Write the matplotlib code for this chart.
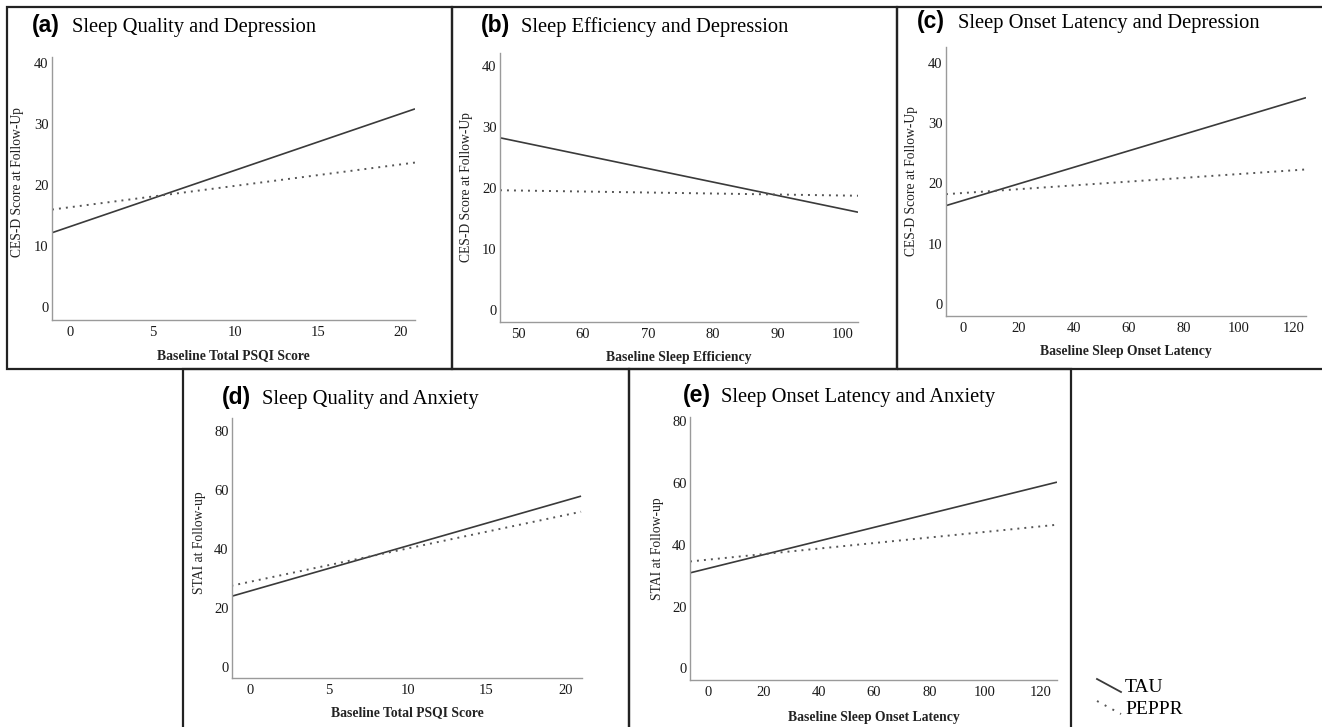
import matplotlib
matplotlib.use("Agg")
import matplotlib.pyplot as plt
from matplotlib.patches import Rectangle
from matplotlib.lines import Line2D

W, H = 1322, 727

# panel data: x end points (edges of the plotted range) and fitted values
x_a = [-1.1, 20.9]
tau_a = [12.2, 32.5]
peppr_a = [16.0, 23.7]

x_b = [47.2, 102.4]
tau_b = [28.3, 16.1]
peppr_b = [19.7, 18.8]

x_c = [-6.4, 124.5]
tau_c = [16.3, 34.2]
peppr_c = [18.2, 22.3]

x_d = [-1.2, 21.0]
tau_d = [23.8, 57.8]
peppr_d = [27.4, 52.5]

x_e = [-6.4, 126.0]
tau_e = [30.9, 60.3]
peppr_e = [34.6, 46.5]

xticks_psqi = [0, 5, 10, 15, 20]
xticks_eff = [50, 60, 70, 80, 90, 100]
xticks_sol = [0, 20, 40, 60, 80, 100, 120]
yticks_dep = [0, 10, 20, 30, 40]
yticks_anx = [0, 20, 40, 60, 80]

serif = "Liberation Serif"
sans = "Liberation Sans"
line_col = "#3a3a3a"
axis_col = "#9a9a9a"

fig = plt.figure(figsize=(W / 100, H / 100), dpi=100)


def box(x0, y0, x1, y1):
    fig.add_artist(Rectangle((x0 / W, 1 - y1 / H), (x1 - x0) / W, (y1 - y0) / H,
                             transform=fig.transFigure, fill=False,
                             edgecolor="#222222", linewidth=1.6))


def title(letter, text, xl, xt, yb):
    fig.text(xl / W, 1 - yb / H, letter, fontfamily=sans, fontweight="bold",
             fontsize=16.5, va="baseline", ha="left")
    fig.text(xt / W, 1 - yb / H, text, fontfamily=serif, fontsize=14.8,
             va="baseline", ha="left")


def panel(pix, x, tau, peppr, xlim, ylim, xticks, yticks, xlabel, ylabel,
          ylab_dx=-33, xlab_dy=36, ylab_cy=0.5):
    x0, y0, x1, y1 = pix
    ax = fig.add_axes([x0 / W, 1 - y1 / H, (x1 - x0) / W, (y1 - y0) / H])
    ax.plot(x, tau, color=line_col, lw=1.2, solid_capstyle="butt")
    ax.plot(x, peppr, color="#555555", lw=1.4, linestyle=(0, (1, 2.6)))
    ax.set_xlim(xlim)
    ax.set_ylim(ylim)
    ax.set_xticks(xticks)
    ax.set_yticks(yticks)
    for s in ["top", "right"]:
        ax.spines[s].set_visible(False)
    for s in ["left", "bottom"]:
        ax.spines[s].set_color(axis_col)
        ax.spines[s].set_linewidth(1.0)
    ax.tick_params(length=0, labelsize=10.5, labelcolor="#1a1a1a")
    ax.tick_params(axis="x", pad=4.5)
    ax.tick_params(axis="y", pad=2.5)
    for lab in ax.get_xticklabels() + ax.get_yticklabels():
        lab.set_fontfamily(serif)
    ax.set_xlabel(xlabel, fontfamily=serif, fontsize=9.8, fontweight="bold",
                  color="#222222", va="center")
    ax.set_ylabel(ylabel, fontfamily=serif, fontsize=9.8, color="#222222", va="center")
    ax.xaxis.set_label_coords(0.5, -xlab_dy / (y1 - y0))
    ax.yaxis.set_label_coords(ylab_dx / (x1 - x0), ylab_cy)
    ax.patch.set_alpha(0)
    return ax


# panel borders
box(7, 7, 452, 369)
box(452, 7, 897, 369)
box(897, 7, 1325, 369)
box(183, 369, 629, 730)
box(629, 369, 1071, 730)

panel((52, 57, 415, 320), x_a, tau_a, peppr_a, (-1.1, 20.9), (-2.1, 41),
      xticks_psqi, yticks_dep, "Baseline Total PSQI Score", "CES-D Score at Follow-Up",
      ylab_dx=-34, ylab_cy=0.525)
panel((500, 53, 858, 322), x_b, tau_b, peppr_b, (47.2, 102.4), (-1.9, 42.2),
      xticks_eff, yticks_dep, "Baseline Sleep Efficiency", "CES-D Score at Follow-Up",
      xlab_dy=35)
panel((946, 47, 1306, 316), x_c, tau_c, peppr_c, (-6.4, 124.5), (-2.0, 42.6),
      xticks_sol, yticks_dep, "Baseline Sleep Onset Latency", "CES-D Score at Follow-Up",
      ylab_dx=-34)
panel((232, 418, 582, 678), x_d, tau_d, peppr_d, (-1.16, 21.06), (-3.9, 84.3),
      xticks_psqi, yticks_anx, "Baseline Total PSQI Score", "STAI at Follow-up",
      ylab_dx=-32, xlab_dy=35, ylab_cy=0.52)
panel((690, 417, 1057, 680), x_e, tau_e, peppr_e, (-6.4, 126.0), (-3.8, 81.4),
      xticks_sol, yticks_anx, "Baseline Sleep Onset Latency", "STAI at Follow-up",
      xlab_dy=37)

title("(a)", "Sleep Quality and Depression", 32, 72, 32)
title("(b)", "Sleep Efficiency and Depression", 481, 521, 32)
title("(c)", "Sleep Onset Latency and Depression", 917, 958, 28)
title("(d)", "Sleep Quality and Anxiety", 222, 262, 404)
title("(e)", "Sleep Onset Latency and Anxiety", 683, 721, 402)

# legend
fig.add_artist(Line2D([1097 / W, 1121 / W], [1 - 679 / H, 1 - 692 / H],
                      transform=fig.transFigure, color=line_col, lw=1.3))
fig.add_artist(Line2D([1097 / W, 1121 / W], [1 - 701 / H, 1 - 714 / H],
                      transform=fig.transFigure, color="#555555", lw=1.4,
                      linestyle=(0, (1, 3.5))))
fig.text(1125 / W, 1 - 687 / H, "TAU", fontfamily=serif, fontsize=14, va="center")
fig.text(1125 / W, 1 - 710 / H, "PEPPR", fontfamily=serif, fontsize=14, va="center")

fig.savefig("out.png", dpi=100)
